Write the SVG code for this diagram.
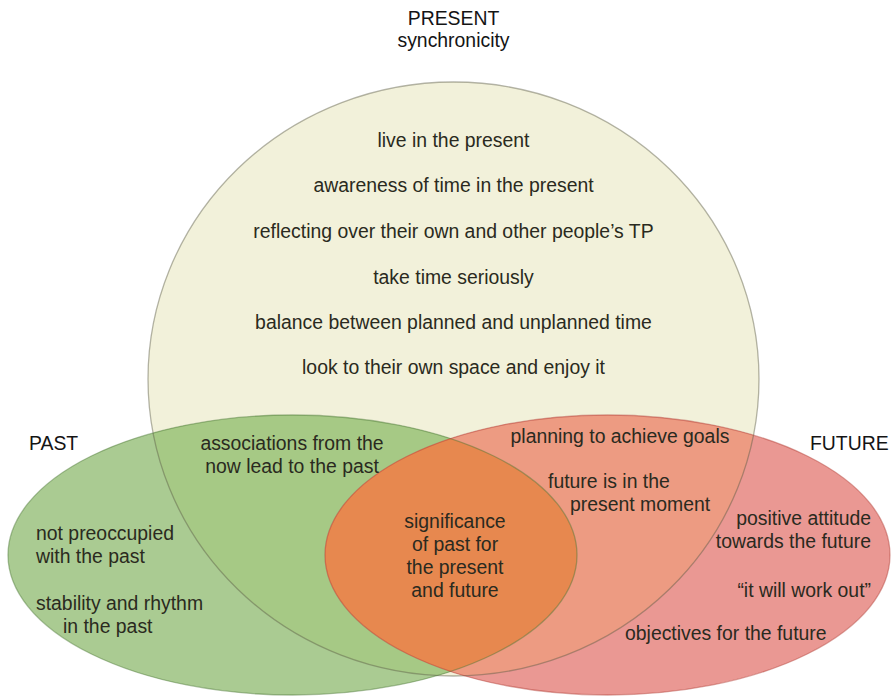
<svg xmlns="http://www.w3.org/2000/svg" width="893" height="697" viewBox="0 0 893 697">
  <style>
    text { font-family: "Liberation Sans", Arial, Helvetica, sans-serif; font-size: 19.4px; fill: #2a2a20; }
    .title { fill: #141414; }
    .mid { text-anchor: middle; }
    .end { text-anchor: end; }
    .edge { fill: none; stroke-width: 1.3; stroke-opacity: 0.45; }
  </style>
  <defs>
    <clipPath id="clip-present">
      <ellipse cx="453.5" cy="379" rx="305.5" ry="297"/>
    </clipPath>
    <clipPath id="clip-past">
      <ellipse cx="292.5" cy="555" rx="284.5" ry="140"/>
    </clipPath>
  </defs>

  <rect width="893" height="697" fill="#ffffff"/>

  <!-- PRESENT set -->
  <g id="present">
    <ellipse cx="453.5" cy="379" rx="305.5" ry="297" fill="#f2f1da"/>
  </g>

  <!-- PAST set, darker where it overlaps the present -->
  <g id="past">
    <ellipse cx="292.5" cy="555" rx="284.5" ry="140" fill="#aacb92"/>
    <ellipse cx="292.5" cy="555" rx="284.5" ry="140" fill="#a6c985" clip-path="url(#clip-present)"/>
  </g>

  <!-- FUTURE set, salmon inside present, orange where it meets the past -->
  <g id="future">
    <ellipse cx="607.5" cy="555" rx="282.5" ry="140" fill="#ea9893"/>
    <ellipse cx="607.5" cy="555" rx="282.5" ry="140" fill="#ed9b82" clip-path="url(#clip-present)"/>
    <ellipse cx="607.5" cy="555" rx="282.5" ry="140" fill="#e7884f" clip-path="url(#clip-past)"/>
  </g>

  <!-- set outlines -->
  <g id="outlines">
    <ellipse class="edge" cx="453.5" cy="379" rx="305.5" ry="297" stroke="#5a5a44"/>
    <ellipse class="edge" cx="292.5" cy="555" rx="284.5" ry="140" stroke="#4a7532"/>
    <ellipse class="edge" cx="607.5" cy="555" rx="282.5" ry="140" stroke="#b03a30"/>
  </g>

  <!-- set titles -->
  <g id="titles">
    <text class="title mid" x="453.5" y="25">PRESENT</text>
    <text class="title mid" x="453.5" y="47">synchronicity</text>
    <text class="title" x="29" y="450">PAST</text>
    <text class="title" x="810" y="450">FUTURE</text>
  </g>

  <!-- present-only items -->
  <g id="present-items">
    <text class="mid" x="453.5" y="147">live in the present</text>
    <text class="mid" x="453.5" y="192">awareness of time in the present</text>
    <text class="mid" x="453.5" y="238">reflecting over their own and other people’s TP</text>
    <text class="mid" x="453.5" y="284">take time seriously</text>
    <text class="mid" x="453.5" y="329">balance between planned and unplanned time</text>
    <text class="mid" x="453.5" y="374">look to their own space and enjoy it</text>
  </g>

  <!-- past items -->
  <g id="past-items">
    <text class="mid" x="292" y="450">associations from the</text>
    <text class="mid" x="292" y="473">now lead to the past</text>
    <text x="36" y="540">not preoccupied</text>
    <text x="36" y="563">with the past</text>
    <text x="36" y="610">stability and rhythm</text>
    <text x="63" y="633">in the past</text>
  </g>

  <!-- shared core -->
  <g id="core-items">
    <text class="mid" x="455" y="528">significance</text>
    <text class="mid" x="455" y="551">of past for</text>
    <text class="mid" x="455" y="574">the present</text>
    <text class="mid" x="455" y="597">and future</text>
  </g>

  <!-- future items -->
  <g id="future-items">
    <text class="mid" x="620" y="443">planning to achieve goals</text>
    <text x="548" y="488">future is in the</text>
    <text x="570" y="511">present moment</text>
    <text class="end" x="871" y="525">positive attitude</text>
    <text class="end" x="871" y="548">towards the future</text>
    <text class="end" x="871" y="597">“it will work out”</text>
    <text x="625" y="640">objectives for the future</text>
  </g>
</svg>
